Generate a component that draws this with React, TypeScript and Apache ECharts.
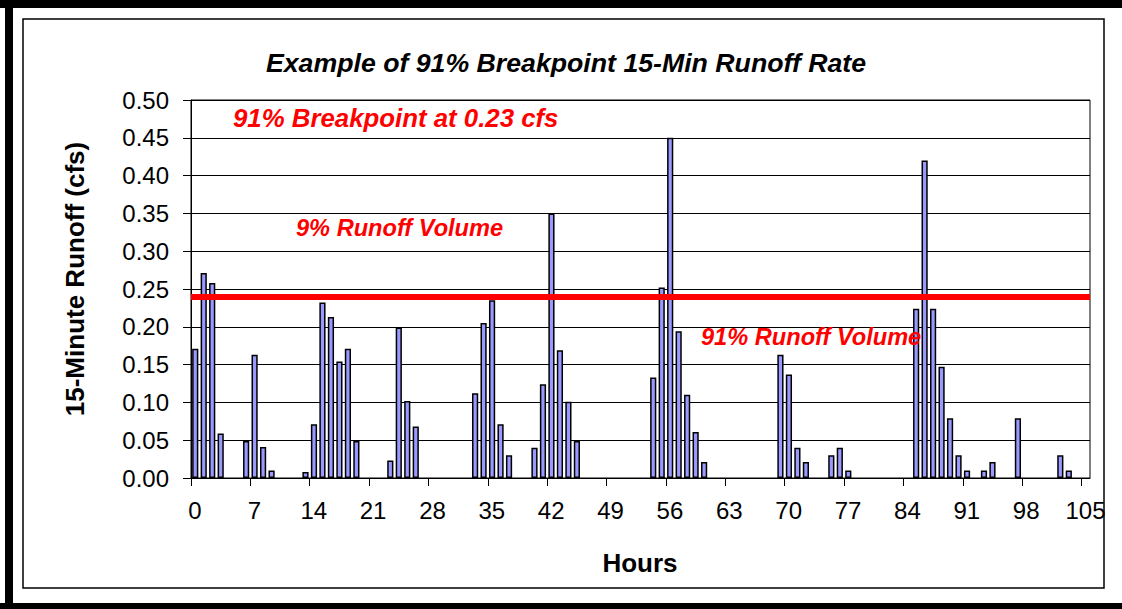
import React, { useEffect, useRef } from "react";
import * as echarts from "echarts";

// Hourly 15-minute runoff values (cfs), hours 0..105
const hours: number[] = Array.from({ length: 106 }, (_, i) => i);
const runoff: number[] = [
  0.171, 0.271, 0.258, 0.059, 0, 0, 0.049, 0.163, 0.041, 0.010,
  0, 0, 0, 0.008, 0.071, 0.232, 0.213, 0.154, 0.171, 0.049,
  0, 0, 0, 0.023, 0.199, 0.102, 0.068, 0, 0, 0,
  0, 0, 0, 0.112, 0.205, 0.235, 0.071, 0.030, 0, 0,
  0.040, 0.124, 0.350, 0.169, 0.101, 0.049, 0, 0, 0, 0,
  0, 0, 0, 0, 0.133, 0.252, 0.450, 0.194, 0.110, 0.061,
  0.021, 0, 0, 0, 0, 0, 0, 0, 0, 0.163,
  0.137, 0.040, 0.021, 0, 0, 0.030, 0.040, 0.010, 0, 0,
  0, 0, 0, 0, 0, 0.224, 0.420, 0.224, 0.147, 0.079,
  0.030, 0.010, 0, 0.010, 0.021, 0, 0, 0.079, 0, 0,
  0, 0, 0.030, 0.010, 0, 0,
];
const xTicks: number[] = [0, 7, 14, 21, 28, 35, 42, 49, 56, 63, 70, 77, 84, 91, 98, 105];
const breakpoint = 0.236;

const titleText = "Example of 91% Breakpoint 15-Min Runoff Rate";
const yTitle = "15-Minute Runoff (cfs)";
const xTitle = "Hours";
const notes = ["91% Breakpoint at 0.23 cfs", "9% Runoff Volume", "91% Runoff Volume"];

const FONT = "'Liberation Sans', Arial, sans-serif";

export default function App() {
  const ref = useRef<HTMLDivElement>(null);
  useEffect(() => {
    if (!ref.current) return;
    const chart = echarts.init(ref.current, undefined, { renderer: "svg" });
    const barData = hours
      .map((h, i) => [h + 0.5, runoff[i]])
      .filter((d) => d[1] > 0);
    const redText = (text: string, x: number, y: number, size: number) => ({
      type: "text",
      x,
      y,
      z: 50,
      style: {
        text,
        fontFamily: FONT,
        fontSize: size,
        fontWeight: "bold",
        fontStyle: "italic",
        fill: "#FF0000",
        align: "left",
        verticalAlign: "middle",
      },
    });
    chart.setOption({
      animation: false,
      backgroundColor: "#ffffff",
      grid: {
        left: 191,
        top: 100,
        width: 899,
        height: 378,
        show: true,
        borderColor: "#000",
        borderWidth: 1,
        backgroundColor: "transparent",
      },
      xAxis: {
        type: "value",
        min: 0,
        max: 106,
        interval: 7,
        axisLine: { show: true, lineStyle: { color: "#000", width: 1 } },
        axisTick: { show: true, length: 8, customValues: xTicks, lineStyle: { color: "#000" } },
        axisLabel: {
          customValues: xTicks,
          margin: 20,
          color: "#000",
          fontSize: 24,
          fontFamily: FONT,
          padding: [0, 0, 0, 8],
        },
        splitLine: { show: false },
      },
      yAxis: {
        type: "value",
        min: 0,
        max: 0.5,
        interval: 0.05,
        axisLine: { show: true, lineStyle: { color: "#000", width: 1 } },
        axisTick: { show: true, length: 8, lineStyle: { color: "#000" } },
        axisLabel: {
          margin: 22,
          color: "#000",
          fontSize: 24,
          fontFamily: FONT,
          formatter: (v: number) => v.toFixed(2),
        },
        splitLine: { show: true, lineStyle: { color: "#000", width: 1 } },
      },
      series: [
        {
          type: "bar",
          data: barData,
          barWidth: 6.2,
          itemStyle: { color: "#9999FF", borderColor: "#000", borderWidth: 1.5 },
          markLine: {
            silent: true,
            symbol: ["none", "none"],
            label: { show: false },
            lineStyle: { color: "#FF0000", width: 6, type: "solid" },
            data: [{ yAxis: breakpoint }],
          },
        },
      ],
      graphic: [
        { type: "rect", shape: { x: 0, y: 0, width: 1122, height: 8 }, style: { fill: "#000" }, z: 100 },
        { type: "rect", shape: { x: 5, y: 0, width: 8, height: 609 }, style: { fill: "#000" }, z: 100 },
        { type: "rect", shape: { x: 0, y: 603, width: 1122, height: 6 }, style: { fill: "#000" }, z: 100 },
        {
          type: "rect",
          shape: { x: 23, y: 19, width: 1081, height: 569 },
          style: { fill: "none", stroke: "#000", lineWidth: 1.5 },
          z: 100,
        },
        {
          type: "text",
          x: 566,
          y: 63,
          style: {
            text: titleText,
            fontFamily: FONT,
            fontSize: 26.7,
            fontWeight: "bold",
            fontStyle: "italic",
            fill: "#000",
            align: "center",
            verticalAlign: "middle",
          },
        },
        {
          type: "text",
          x: 75,
          y: 279,
          rotation: Math.PI / 2,
          style: {
            text: yTitle,
            fontFamily: FONT,
            fontSize: 26,
            fontWeight: "bold",
            fill: "#000",
            align: "center",
            verticalAlign: "middle",
          },
        },
        {
          type: "text",
          x: 640,
          y: 563,
          style: {
            text: xTitle,
            fontFamily: FONT,
            fontSize: 26,
            fontWeight: "bold",
            fill: "#000",
            align: "center",
            verticalAlign: "middle",
          },
        },
        redText(notes[0], 233, 118, 25.8),
        redText(notes[1], 296, 228, 23.6),
        redText(notes[2], 701, 337, 23.6),
      ],
    });
    return () => chart.dispose();
  }, []);
  return (
    <div
      ref={ref}
      style={{ position: "fixed", left: 0, top: 0, width: 1122, height: 609, background: "#fff" }}
    />
  );
}
